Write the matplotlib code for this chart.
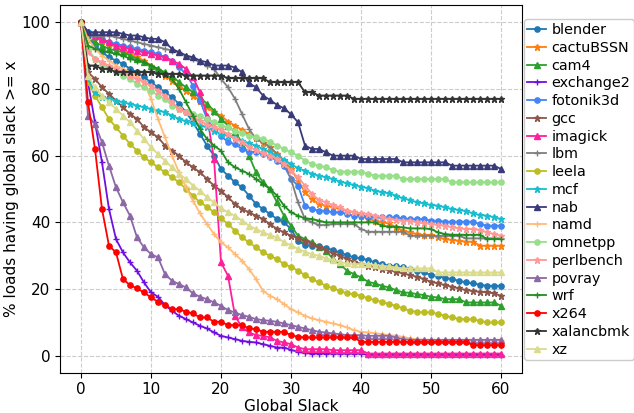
import numpy as np
import matplotlib
matplotlib.use("Agg")
import matplotlib.pyplot as plt

names = ["blender", "cactuBSSN", "cam4", "exchange2", "fotonik3d", "gcc", "imagick",
         "lbm", "leela", "mcf", "nab", "namd", "omnetpp", "perlbench", "povray",
         "wrf", "x264", "xalancbmk", "xz"]

blender = [100, 96, 93, 91, 89.5, 88.5, 87.5, 86, 85, 83.5,
           82, 80.5, 79, 77.5, 75.5, 73, 70, 66.5, 63, 60,
           56, 54, 52, 50.5, 48, 45.5, 44, 42.5, 41, 40,
           38, 34.5, 33.2, 33, 32.8, 32.3, 31.7, 31, 30.2, 29.5,
           29.2, 28.7, 28, 27.5, 27, 26.8, 26.5, 26, 25.5, 25,
           24.2, 24, 23.3, 23, 22.5, 22, 21.7, 21.3, 21, 21,
           21]
cactuBSSN = [100, 97, 95.5, 94.5, 93.5, 92.5, 91.5, 90.5, 89.5, 88.5,
             87, 85.5, 84, 82.5, 81, 79.5, 78, 76.5, 74.5, 73,
             72, 70.2, 69, 67.7, 66.5, 65.2, 63.7, 62.5, 60.5, 58.5,
             56, 52.5, 49, 47, 45.5, 45, 44.5, 44, 43.5, 43,
             42, 41, 40.5, 40, 39.7, 38.5, 37.5, 37, 36.5, 36.2,
             36.2, 35.5, 35, 34.7, 34.5, 34.2, 34.2, 33, 33, 33,
             33]
cam4 = [100, 95, 94, 93, 92, 91.5, 91, 90, 89, 88,
        87, 86, 85, 84, 82, 80.5, 79, 77.5, 75.5, 73.5,
        71, 69, 67, 64, 60, 55, 52, 50, 46, 42,
        39, 36, 35, 34, 32.7, 31.5, 29, 27.5, 25.5, 24.5,
        23.5, 22.2, 21.7, 21, 20.5, 19.7, 19, 18.9, 18.5, 18.2,
        17.7, 17.5, 17, 17, 17, 16, 16, 16, 16, 16,
        15]
exchange2 = [100, 82, 70, 58, 44, 35, 31, 28, 25.5, 22,
             19, 17.7, 15.2, 13.5, 12, 11, 10, 9, 8.2, 7,
             6, 5.5, 5, 4.5, 4.2, 4, 3.5, 3, 2.5, 2.5,
             1.8, 1.2, 0.8, 0.7, 0.7, 0.7, 0.7, 0.7, 0.7, 0.7,
             0.7, 0.3, 0.3, 0.3, 0.3, 0.3, 0.3, 0.3, 0.3, 0.3,
             0.3, 0.3, 0.3, 0.3, 0.3, 0.3, 0.3, 0.3, 0.3, 0.3,
             0.3]
fotonik3d = [100, 97, 96, 95, 94, 93.5, 93, 92.5, 92, 91.5,
             91, 90.5, 89.5, 88.5, 86.5, 84.5, 81, 76.5, 71, 68,
             66, 64, 63.5, 62, 61.2, 61, 60.5, 59.7, 58.5, 57,
             53, 51, 45, 44, 43.5, 43.5, 43, 43, 42.5, 42,
             42, 41.7, 41.7, 41.5, 41.5, 41.5, 41.2, 41, 41, 41,
             40.5, 40.5, 40.2, 40.2, 40.2, 40.2, 40.2, 39.5, 39, 39,
             39]
gcc = [100, 85, 83, 80.5, 78.5, 76.5, 74.5, 72.5, 71, 68.5,
       67, 65.5, 63, 61.5, 60, 58, 56.5, 55, 53, 51,
       49.5, 47.5, 45.5, 44, 43, 42, 41, 39.5, 38, 37,
       36, 35.3, 34.5, 33.5, 32.7, 31.7, 30.7, 30, 29, 28.2,
       27.5, 27, 26.5, 26, 25.7, 25.2, 24.7, 24.2, 23.7, 23,
       22.2, 21.7, 21.2, 20.7, 20.2, 19.7, 19.4, 19.2, 19, 18.7,
       18]
imagick = [100, 97, 96, 95, 94, 93, 92.5, 92, 91.5, 91,
           90.5, 90, 89.5, 88.5, 87.5, 86, 83.5, 79, 72, 59,
           28, 24, 12, 8.5, 7, 6.2, 6, 5.5, 4.5, 4,
           3.5, 2.5, 2, 2, 2, 2, 1.7, 1.7, 1.7, 1.7,
           1.7, 0.7, 0.7, 0.7, 0.7, 0.7, 0.7, 0.7, 0.7, 0.7,
           0.7, 0.7, 0.7, 0.7, 0.7, 0.7, 0.7, 0.7, 0.7, 0.7,
           0.7]
lbm = [100, 97, 96, 96, 96, 95.5, 95, 94.5, 94, 93.5,
       93, 92.5, 92, 91.5, 91, 90, 89, 88, 87, 86,
       83, 80.5, 77, 72.5, 68, 65, 64, 62.7, 60.5, 58.5,
       53, 46, 41, 40, 39.2, 39.2, 39.5, 39.5, 39.5, 39.5,
       38, 37.2, 37.2, 37.2, 37.2, 37.2, 37.2, 36, 36, 36,
       36, 36, 36, 36, 36, 35.2, 35.2, 35.2, 35.2, 35.2,
       35.2]
leela = [100, 82, 78, 74.5, 71, 68.5, 66, 63.5, 61.5, 59.5,
         58, 56.5, 55, 53.5, 52, 50, 48, 46, 44.7, 43,
         41.2, 39.5, 37.5, 35.5, 34, 32.5, 31, 30, 29, 27.5,
         26.7, 25.5, 24.2, 23, 22, 21, 20.2, 19.5, 18.7, 18.5,
         18, 17.2, 16.7, 16.2, 15.5, 15, 14.2, 13.5, 13.2, 13,
         13, 12.5, 12, 11.5, 11, 11, 10.9, 10.5, 10, 10,
         10]
mcf = [100, 83, 79, 77.5, 77, 76.5, 76, 75.5, 75, 74.5,
       74, 73.5, 73, 72, 71, 70.3, 69.7, 69, 68.5, 67.5,
       66.5, 66, 65.2, 64.5, 63.7, 63, 62, 61, 60, 58.7,
       57.5, 56.2, 55.5, 54.5, 54, 53.5, 53, 52.2, 51.7, 51.2,
       50.7, 50.2, 49.5, 49, 48.7, 48, 47.2, 46.7, 46, 45.7,
       45.2, 45, 44.5, 44, 43.7, 43.4, 42.7, 42.2, 42, 41.5,
       41]
nab = [100, 97, 97, 97, 97, 97, 96.5, 96, 96, 95.5,
       95, 95, 94, 92, 91, 90, 89.5, 88.5, 88, 87,
       87, 87, 86.4, 85, 81.7, 80.5, 78, 76.7, 75.2, 74.2,
       72.4, 70, 63, 62, 62, 61, 60, 60, 60, 60,
       59, 59, 59, 59, 59, 59, 58, 58, 58, 58,
       58, 58, 58, 57, 57, 57, 57, 57, 57, 57,
       56]
namd = [100, 95, 92, 90, 88.5, 87, 86, 85, 84, 82,
        77, 71, 65.5, 60, 55, 50.5, 46.5, 42.7, 39.5, 36.5,
        34, 32.5, 30.5, 28.5, 26, 23, 19.5, 18, 17, 15.5,
        14, 13, 12, 11.2, 10.7, 10.2, 9.7, 9.2, 8.5, 7.7,
        7.2, 7, 6.8, 6.5, 6.2, 6, 5.7, 5.2, 5, 4.8,
        4.8, 4.8, 4.8, 4.8, 4.8, 4.8, 4.8, 4.8, 4.8, 4.8,
        4.8]
omnetpp = [100, 92, 89, 87.5, 86, 85, 84, 83, 81.5, 80.5,
           79.5, 78, 77, 75, 74, 73.2, 72.5, 71.8, 71, 70,
           69, 68.5, 67.5, 66.7, 66, 65.5, 65, 64.2, 63, 62,
           61, 60, 58.5, 57.5, 57, 56.5, 55.7, 55.2, 55.2, 55.2,
           55.2, 54.5, 54, 54, 54, 54, 53, 53, 53, 53,
           53, 53, 53, 52, 52, 52, 52, 52, 52, 52,
           52]
perlbench = [100, 91, 89, 88, 87, 86, 85, 84, 83, 82,
             81, 79.5, 78, 76, 74, 73, 71.5, 70.5, 69.3, 68.5,
             67.7, 66.5, 65, 64, 62.7, 61.7, 60.7, 60, 59, 57.5,
             55.5, 53.5, 51, 48.5, 46.7, 46, 45.2, 44.5, 43.5, 43,
             42.7, 42.5, 42, 41.5, 41, 40.7, 40.5, 40.5, 40, 39.7,
             39.5, 39.2, 39, 38.5, 38.2, 38, 38, 37.7, 37, 36.5,
             36]
povray = [100, 72, 69.5, 64, 57, 50.5, 46, 42, 35.5, 32.5,
          30.5, 29.5, 24.5, 22.5, 21.5, 20.5, 18.7, 17.7, 17, 16,
          15, 13.7, 13, 12.2, 11.7, 11, 10.7, 10.5, 10.2, 9.7,
          9.2, 8.7, 8.2, 7.7, 7.2, 7, 6.7, 6.5, 6.2, 6.2,
          6.2, 6, 6, 6, 6, 5.5, 5, 4.8, 4.8, 4.8,
          4.8, 4.8, 4.8, 4.8, 4.8, 4.8, 4.8, 4.8, 4.8, 4.8,
          4.8]
wrf = [100, 93, 92, 91.5, 91, 90.5, 90, 89, 88.5, 88,
       87, 86, 84.5, 83, 80, 76, 72, 68, 65, 63,
       61.5, 58, 56.5, 55.5, 54.5, 53, 51.5, 50, 48, 45,
       43, 42, 41.2, 41, 40.5, 40, 40, 40, 40, 40,
       40, 40, 40, 39, 38.7, 38.7, 38.5, 38.2, 38.2, 38.2,
       38, 37, 36.5, 36.3, 36.3, 36.3, 36.3, 36.3, 35, 35,
       35]
x264 = [100, 76, 62, 44, 33, 31, 23, 21.2, 20.2, 19,
        17.5, 16.2, 15.2, 14, 14, 13.2, 12.7, 11.5, 11.5, 10.2,
        10.2, 9.2, 9.2, 9.2, 8.2, 8, 7.2, 7.2, 7.2, 7.2,
        6.2, 5.7, 5.5, 5.5, 5.5, 5.5, 5.5, 5.5, 5.5, 5.5,
        4.2, 4.2, 4.2, 4.2, 4.2, 4.2, 4.2, 4.2, 4.2, 4.2,
        4.2, 4.2, 4.2, 4.2, 4.2, 4.2, 3.2, 3.2, 3.2, 3.2,
        3.2]
xalancbmk = [100, 87, 87, 86, 86, 85, 85, 85, 85, 85,
             85, 84.5, 84.5, 84.5, 84.5, 84, 84, 84, 84, 84,
             84, 83.2, 83.2, 83.2, 83.2, 83.2, 83.2, 82, 82, 82,
             82, 82, 79, 79, 78, 78, 78, 78, 78, 77,
             77, 77, 77, 77, 77, 77, 77, 77, 77, 77,
             77, 77, 77, 77, 77, 77, 77, 77, 77, 77,
             77]
xz = [100, 84, 80.5, 78, 76, 74, 72, 70, 67.5, 65,
      62.5, 60.5, 58.5, 56.5, 54.5, 53, 51, 49.5, 47.5, 46,
      44.2, 43, 42, 40.5, 39, 38, 37, 36.2, 35.5, 34,
      33.2, 32, 31.2, 30.5, 30, 29.2, 28.7, 28.2, 27.7, 27.5,
      27.5, 27.5, 27.2, 27, 26.8, 26.5, 26.2, 26.2, 26.2, 26.2,
      26.2, 25, 25, 25, 25, 25, 25, 25, 25, 25,
      25]

series = [blender, cactuBSSN, cam4, exchange2, fotonik3d, gcc, imagick, lbm, leela,
          mcf, nab, namd, omnetpp, perlbench, povray, wrf, x264, xalancbmk, xz]

colors = ["#1f77b4", "#ff7f0e", "#2ca02c", "#6f10e0", "#4285f4", "#8c564b", "#ff1f9a",
          "#7f7f7f", "#bcbd22", "#17becf", "#393b79", "#ffbb78", "#98df8a", "#ff9896",
          "#8c68a6", "#228b22", "#ff0000", "#333333", "#dbdb8d"]
markers = ["o", "*", "^", "+"]

plt.rcParams['font.family'] = ['DejaVu Sans']
fig = plt.figure(figsize=(6.34, 4.13), dpi=100)
ax = fig.add_axes([0.0946, 0.098, 0.7288, 0.8887])

for i, (name, vals) in enumerate(zip(names, series)):
    x = np.arange(len(vals))
    m = markers[i % 4]
    ms = 3.8 if m in ("o", "^") else 4.5
    ax.plot(x, vals, marker=m, markersize=ms, linewidth=1.3, color=colors[i], label=name)

ax.set_xlim(-3, 63)
ax.set_ylim(-5, 105)
ax.set_xticks([0, 10, 20, 30, 40, 50, 60])
ax.set_yticks([0, 20, 40, 60, 80, 100])
ax.tick_params(labelsize=11)
ax.grid(True, linestyle='--', color='#cccccc', linewidth=0.8)
ax.set_axisbelow(True)
ax.set_xlabel("Global Slack", fontsize=11, labelpad=1)
ax.set_ylabel("% loads having global slack >= x", fontsize=11, labelpad=2)

leg = ax.legend(loc='upper left', bbox_to_anchor=(1.004, 0.962), borderaxespad=0,
                fontsize=10.4, labelspacing=0.26, handlelength=1.3, handletextpad=0.35,
                borderpad=0.25, framealpha=1)

fig.savefig("out.png", dpi=100)
